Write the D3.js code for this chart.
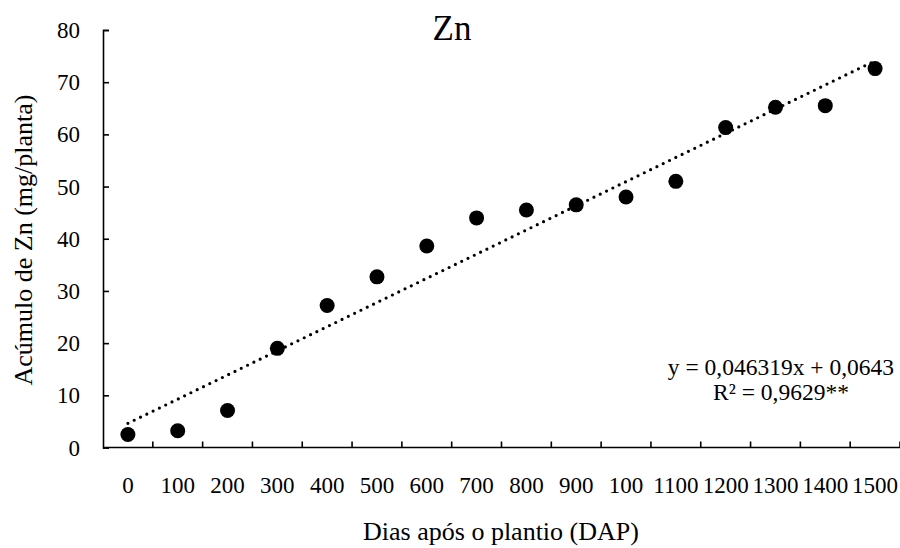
<!DOCTYPE html>
<html>
<head>
<meta charset="utf-8">
<script src="https://cdn.jsdelivr.net/npm/d3@7"></script>
<style>
  body { margin: 0; background: #fff; }
  svg text { font-family: "Liberation Serif", "Times New Roman", serif; fill: #000; }
</style>
</head>
<body>
<svg width="900" height="548"></svg>
<script>
// categories as printed on the axis (the "100" after 900 is in the original)
const categories = ["0", "100", "200", "300", "400", "500", "600", "700", "800", "900",
                    "100", "1100", "1200", "1300", "1400", "1500"];
const zinc = [2.5, 3.2, 7.1, 19.0, 27.2, 32.7, 38.6, 44.0, 45.5, 46.5,
              48.0, 51.0, 61.3, 65.2, 65.5, 72.6];
const yTicks = [0, 10, 20, 30, 40, 50, 60, 70, 80];
const equation = ["y = 0,046319x + 0,0643", "R² = 0,9629**"];

const plotLeft = 103, plotRight = 900, plotTop = 30, plotBottom = 447.5;

const svg = d3.select("svg");

// band per category, so points sit between the tick marks
const x = d3.scaleBand().domain(d3.range(categories.length)).range([plotLeft, plotRight]).padding(0);
const y = d3.scaleLinear().domain([0, 80]).range([plotBottom, plotTop]);

// y axis, ticks pointing into the plot
svg.append("g")
    .attr("transform", "translate(" + plotLeft + ",0)")
    .call(d3.axisRight(y).tickValues(yTicks).tickSize(6).tickSizeOuter(6).tickFormat(""))
    .call(g => g.selectAll("path, line").attr("stroke", "#000").attr("stroke-width", 1.6));

svg.append("g").selectAll("text")
    .data(yTicks)
    .enter().append("text")
    .attr("x", 80)
    .attr("y", d => y(d))
    .attr("dy", "0.35em")
    .attr("text-anchor", "end")
    .style("font-size", "23px")
    .text(d => d);

// x axis: tick marks on the category boundaries
const bounds = d3.range(categories.length + 1).map(i => plotLeft + i * x.bandwidth());
svg.append("line")
    .attr("x1", plotLeft).attr("x2", plotRight)
    .attr("y1", plotBottom).attr("y2", plotBottom)
    .attr("stroke", "#000").attr("stroke-width", 1.6);
svg.append("g").selectAll("line")
    .data(bounds.slice(1))
    .enter().append("line")
    .attr("x1", d => d).attr("x2", d => d)
    .attr("y1", plotBottom).attr("y2", plotBottom - 6)
    .attr("stroke", "#000").attr("stroke-width", 1.6);

svg.append("g").selectAll("text")
    .data(categories)
    .enter().append("text")
    .attr("x", (d, i) => x(i) + x.bandwidth() / 2)
    .attr("y", 493)
    .attr("text-anchor", "middle")
    .style("font-size", "23px")
    .text(d => d);

// linear trend over the category index, like the spreadsheet does
const idx = d3.range(zinc.length);
const mx = d3.mean(idx), my = d3.mean(zinc);
const slope = d3.sum(idx, i => (i - mx) * (zinc[i] - my)) / d3.sum(idx, i => (i - mx) * (i - mx));
const icpt = my - slope * mx;
const ends = [0, zinc.length - 1];

svg.append("path")
    .datum(ends)
    .attr("d", d3.line()
        .x(i => x(i) + x.bandwidth() / 2)
        .y(i => y(icpt + slope * i)))
    .attr("fill", "none")
    .attr("stroke", "#000")
    .attr("stroke-width", 3.2)
    .attr("stroke-linecap", "round")
    .attr("stroke-dasharray", "0 7");

// points
svg.append("g").selectAll("circle")
    .data(zinc)
    .enter().append("circle")
    .attr("cx", (d, i) => x(i) + x.bandwidth() / 2)
    .attr("cy", d => y(d))
    .attr("r", 7.5)
    .attr("fill", "#000");

// equation
svg.append("g").selectAll("text")
    .data(equation)
    .enter().append("text")
    .attr("x", 781)
    .attr("y", (d, i) => 375 + i * 25)
    .attr("text-anchor", "middle")
    .style("font-size", "23.5px")
    .text(d => d);

// titles
svg.append("text")
    .attr("x", 452).attr("y", 40)
    .attr("text-anchor", "middle")
    .style("font-size", "35px")
    .text("Zn");

svg.append("text")
    .attr("x", 501).attr("y", 540)
    .attr("text-anchor", "middle")
    .style("font-size", "26px")
    .text("Dias após o plantio (DAP)");

svg.append("text")
    .attr("transform", "translate(32,240) rotate(-90)")
    .attr("text-anchor", "middle")
    .style("font-size", "26px")
    .text("Acúmulo de Zn (mg/planta)");
</script>
</body>
</html>
